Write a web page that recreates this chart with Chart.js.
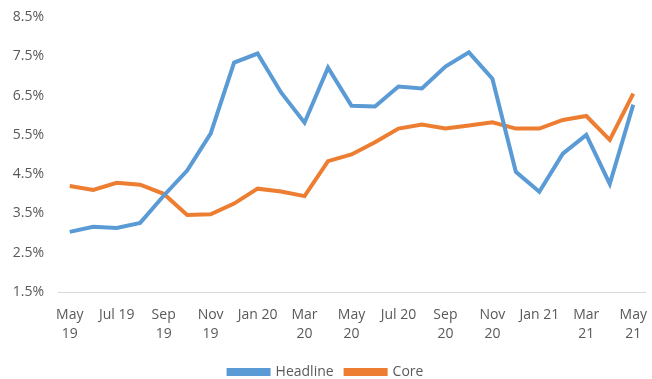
<!DOCTYPE html>
<html>
<head>
<meta charset="utf-8">
<script src="https://cdn.jsdelivr.net/npm/chart.js@4/dist/chart.umd.min.js"></script>
<style>
  html, body { margin: 0; padding: 0; background: #ffffff; }
  #wrap { width: 652px; height: 379px; }
</style>
</head>
<body>
<div id="wrap"><canvas id="myChart" width="652" height="379"></canvas></div>
<script>
// Meses (mayo 2019 - mayo 2021)
const meses = [
  'May 19', 'Jun 19', 'Jul 19', 'Aug 19', 'Sep 19', 'Oct 19', 'Nov 19', 'Dec 19',
  'Jan 20', 'Feb 20', 'Mar 20', 'Apr 20', 'May 20', 'Jun 20', 'Jul 20', 'Aug 20',
  'Sep 20', 'Oct 20', 'Nov 20', 'Dec 20', 'Jan 21', 'Feb 21', 'Mar 21', 'Apr 21', 'May 21'
];

// Etiquetas del eje X (cada dos meses, como en Excel)
const etiquetasX = [
  ['May', '19'], '', 'Jul 19', '', ['Sep', '19'], '', ['Nov', '19'], '',
  'Jan 20', '', ['Mar', '20'], '', ['May', '20'], '', 'Jul 20', '',
  ['Sep', '20'], '', ['Nov', '20'], '', 'Jan 21', '', ['Mar', '21'], '', ['May', '21']
];

// Inflación general (%)
const headline = [
  3.03, 3.16, 3.13, 3.26, 3.95, 4.59, 5.53, 7.34, 7.57, 6.58, 5.81, 7.21, 6.24,
  6.22, 6.73, 6.68, 7.24, 7.60, 6.93, 4.56, 4.05, 5.02, 5.50, 4.25, 6.27
];

// Inflación subyacente (%)
const core = [
  4.20, 4.10, 4.28, 4.23, 4.00, 3.46, 3.48, 3.75, 4.13, 4.06, 3.94, 4.83, 5.00,
  5.31, 5.66, 5.76, 5.66, 5.74, 5.82, 5.66, 5.66, 5.88, 5.98, 5.37, 6.55
];

// Ticks del eje Y
const ticksY = [1.5, 2.5, 3.5, 4.5, 5.5, 6.5, 7.5, 8.5];

const fuente = { family: '"Open Sans", "Noto Sans", sans-serif', size: 14 };
const gris = '#595959';

const ctx = document.getElementById('myChart');
new Chart(ctx, {
  type: 'line',
  data: {
    labels: meses,
    datasets: [
      {
        label: 'Headline',
        data: headline,
        borderColor: '#5b9bd5',
        backgroundColor: '#5b9bd5',
        borderWidth: 4,
        pointRadius: 0,
        tension: 0
      },
      {
        label: 'Core',
        data: core,
        borderColor: '#ed7d31',
        backgroundColor: '#ed7d31',
        borderWidth: 4,
        pointRadius: 0,
        tension: 0
      }
    ]
  },
  options: {
    responsive: false,
    animation: false,
    // el padding inferior negativo baja un poco la leyenda
    layout: { padding: { top: 17, right: 0, left: 0, bottom: -10 } },
    plugins: {
      tooltip: { enabled: false },
      legend: {
        position: 'bottom',
        labels: {
          color: gris,
          font: fuente,
          boxWidth: 40,
          boxHeight: 4,
          padding: 12
        }
      }
    },
    scales: {
      x: {
        offset: true,
        afterFit: (axis) => { axis.paddingRight = 7; axis.height = 61; },
        grid: { display: false, drawTicks: false },
        border: { display: true, color: '#d9d9d9', width: 1 },
        ticks: {
          autoSkip: false,
          maxRotation: 0,
          padding: 13,
          color: gris,
          font: { ...fuente, lineHeight: 1.4 },
          callback: (val, i) => etiquetasX[i]
        }
      },
      y: {
        min: 1.5,
        max: 8.5,
        afterBuildTicks: (axis) => { axis.ticks = ticksY.map(v => ({ value: v })); },
        afterFit: (axis) => { axis.width = 58; axis.paddingTop = 0; },
        grid: { display: false, drawTicks: false },
        border: { display: false },
        ticks: {
          padding: 14,
          color: gris,
          font: fuente,
          callback: (v) => v.toFixed(1) + '%'
        }
      }
    }
  }
});
</script>
</body>
</html>
